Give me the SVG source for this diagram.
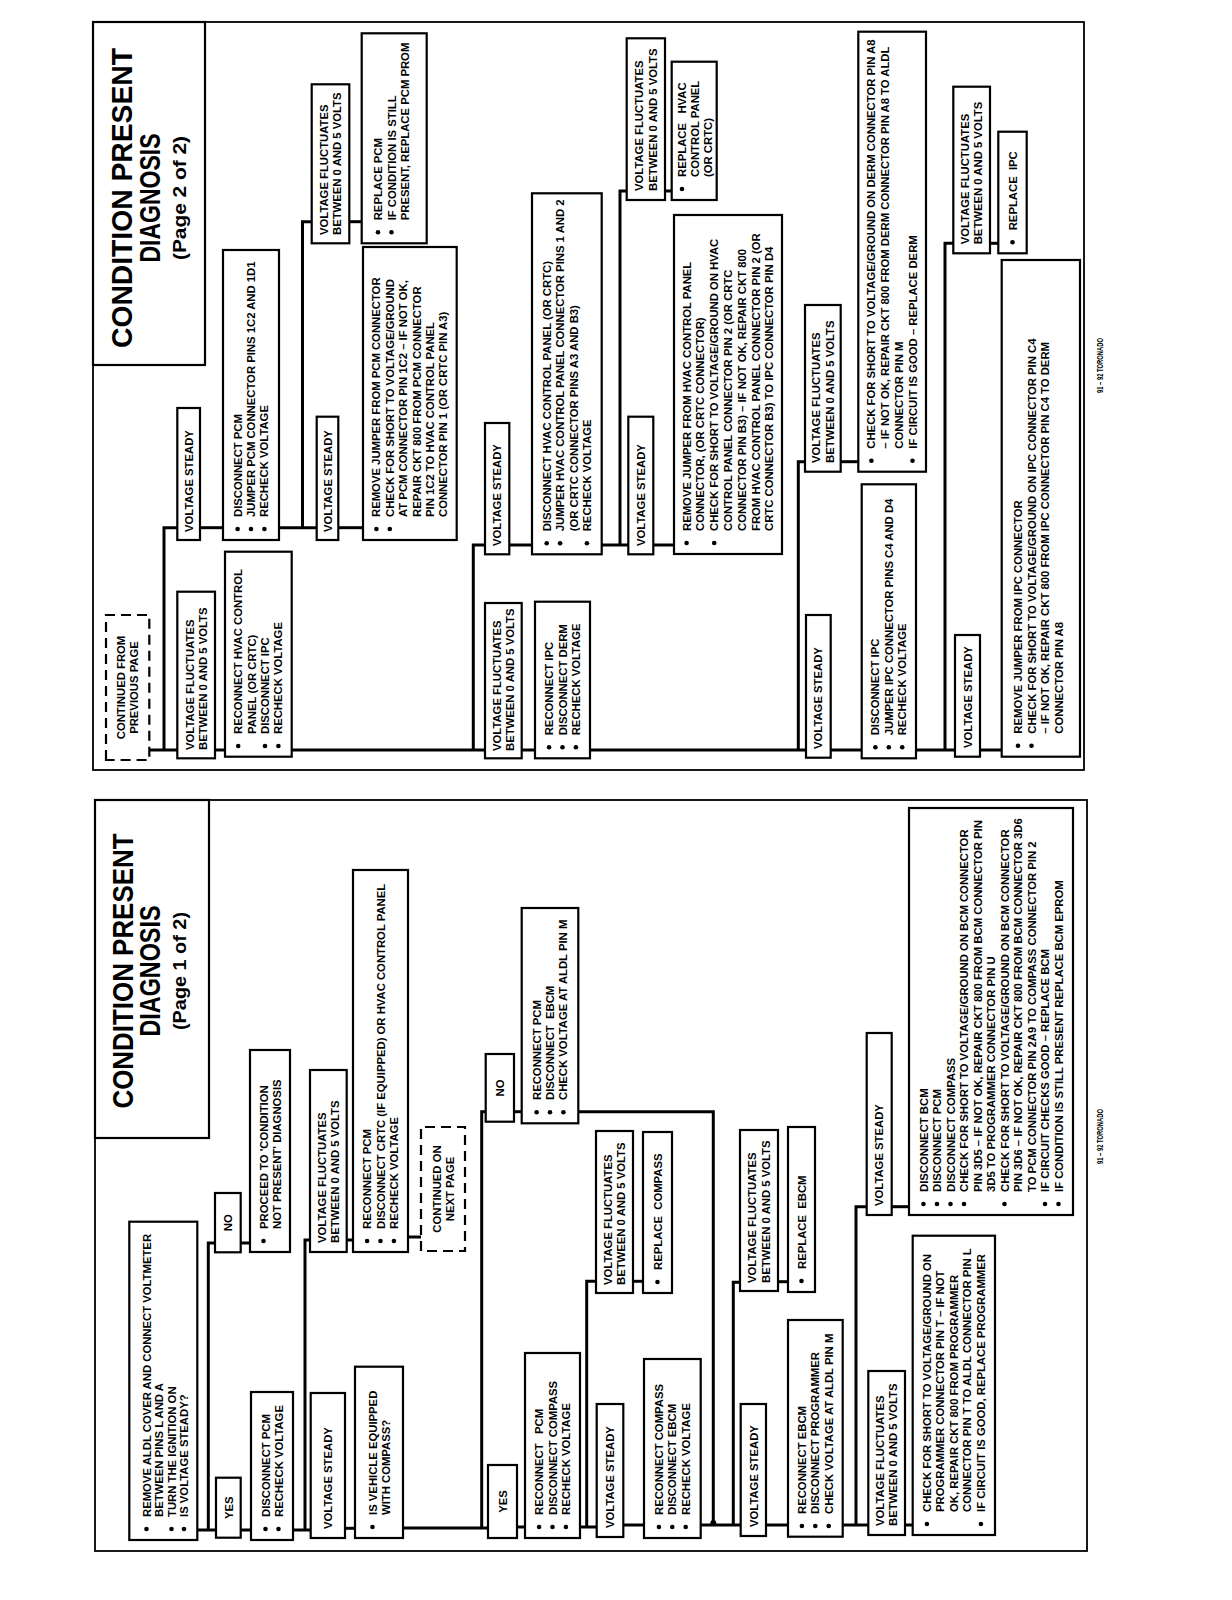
<svg xmlns="http://www.w3.org/2000/svg" width="1232" height="1600" viewBox="0 0 1232 1600">
<style>
.box{fill:#fff;stroke:#000;stroke-width:2.2}
.dash{fill:#fff;stroke:#000;stroke-width:2.2;stroke-dasharray:10 6}
.frame{fill:none;stroke:#000;stroke-width:1.8}
.t{font-family:"Liberation Sans",Arial,Helvetica,sans-serif;font-weight:bold;font-size:11.3px;fill:#000}
.c{text-anchor:middle}
.ti{font-size:29px}
.st{font-size:19px}
.ft{font-size:9.5px}
.b{fill:#000}
#connectors path{fill:none;stroke:#000;stroke-width:3}
</style>
<rect width="1232" height="1600" fill="#fff"/>
<g transform="translate(0,1600) rotate(-90)">
<!-- page frames -->
<rect class="frame" x="49" y="95" width="751" height="992"/>
<rect class="frame" x="830" y="93" width="748" height="991"/>

<g id="connectors">
<!-- page 1 -->
<path d="M70,197 V216"/>
<path d="M70,208.3 H357 V215"/>
<path d="M70,240.7 V251"/>
<path d="M357,240.7 V250"/>
<path d="M70,293 V310.7"/>
<path d="M70,305 H360 V310"/>
<path d="M360,346.7 V353"/>
<path d="M363,408 V421"/>
<path d="M71.7,345 V355"/>
<path d="M72,403 V488"/>
<path d="M72,481.7 H488.3 V485.7"/>
<path d="M73,517 V525"/>
<path d="M488.3,514 V521.7"/>
<path d="M488.3,578.3 V713.3 H75"/>
<path d="M73,580 V596.7"/>
<path d="M73,586.7 H318.7 V596"/>
<path d="M318.7,633 V643"/>
<path d="M75,623.3 V644"/>
<path d="M75,700.7 V740.7"/>
<path d="M75,733.3 H317.7 V740"/>
<path d="M318.3,778 V788"/>
<path d="M75,766 V788"/>
<path d="M75,842.7 V868.3"/>
<path d="M75,856 H393.3 V866.7"/>
<path d="M75,905 V912.7"/>
<path d="M393.3,891.7 V909"/>
<!-- page 2 -->
<path d="M850,149.3 V177.3"/>
<path d="M850,164 H1072.3 V177.3"/>
<path d="M850,215 V225"/>
<path d="M850,291.7 V485"/>
<path d="M850,473.3 H1055 V485"/>
<path d="M1072.3,200 V223"/>
<path d="M1072.3,279 V316.7"/>
<path d="M1072.3,302.5 H1378.3 V311.7"/>
<path d="M1378.3,349.3 V361.7"/>
<path d="M1072.3,338.3 V363"/>
<path d="M850,521.7 V535"/>
<path d="M850,590 V806"/>
<path d="M850,798.3 H1138.3 V805"/>
<path d="M1055,509.3 V532"/>
<path d="M1055,601.7 V628.3"/>
<path d="M1055,620 H1409 V626.7"/>
<path d="M1409,665 V671.7"/>
<path d="M1055,653.3 V674"/>
<path d="M1138.3,840.7 V858.3"/>
<path d="M850,830.7 V861.7"/>
<path d="M850,916 V955"/>
<path d="M850,945 H1356.7 V953.3"/>
<path d="M1356.7,990 V998.3"/>
<path d="M850,980 V1001.7"/>
</g>
<circle class="b" cx="77" cy="713.3" r="3"/>

<!-- ================= PAGE 1 ================= -->
<g id="p1-title">
<rect class="box" x="462" y="95" width="338" height="114"/>
<text class="t c ti" x="629" y="132.7" textLength="275" lengthAdjust="spacingAndGlyphs">CONDITION PRESENT</text>
<text class="t c ti" x="629" y="160" textLength="131" lengthAdjust="spacingAndGlyphs">DIAGNOSIS</text>
<text class="t c st" x="629" y="186" textLength="118" lengthAdjust="spacingAndGlyphs">(Page 1 of 2)</text>
</g>
<g id="p1-start">
<rect class="box" x="60" y="129.3" width="318.3" height="68"/>
<circle class="b" cx="71" cy="146.5" r="2.3"/><circle class="b" cx="71" cy="171.5" r="2.3"/><circle class="b" cx="71" cy="184" r="2.3"/>
<text class="t" x="83" y="150.5">REMOVE ALDL COVER AND CONNECT VOLTMETER</text>
<text class="t" x="83" y="163">BETWEEN PINS L AND A</text>
<text class="t" x="83" y="175.5">TURN THE IGNITION ON</text>
<text class="t" x="83" y="188">IS VOLTAGE STEADY?</text>
</g>
<g id="p1-yes1"><rect class="box" x="62.3" y="216" width="60" height="24.7"/><text class="t c" x="92.3" y="232.5">YES</text></g>
<g id="p1-no1"><rect class="box" x="347.7" y="215" width="59.3" height="25.7"/><text class="t c" x="377.3" y="232">NO</text></g>
<g id="p1-proceed">
<rect class="box" x="348" y="250" width="202" height="40"/>
<circle class="b" cx="359" cy="263.5" r="2.3"/>
<text class="t" x="371" y="267.5">PROCEED TO 'CONDITION</text>
<text class="t" x="371" y="280.5">NOT PRESENT' DIAGNOSIS</text>
</g>
<g id="p1-disc-pcm">
<rect class="box" x="60" y="251" width="148" height="42"/>
<circle class="b" cx="71" cy="265.5" r="2.3"/><circle class="b" cx="71" cy="278.5" r="2.3"/>
<text class="t" x="83" y="269.5">DISCONNECT PCM</text>
<text class="t" x="83" y="282.5">RECHECK VOLTAGE</text>
</g>
<g id="p1-vs1"><rect class="box" x="62" y="310.7" width="145" height="34.3"/><text class="t" x="71" y="332">VOLTAGE STEADY</text></g>
<g id="p1-vf1">
<rect class="box" x="348" y="310" width="182" height="36.7"/>
<text class="t" x="357" y="325.6">VOLTAGE FLUCTUATES</text>
<text class="t" x="357" y="339">BETWEEN 0 AND 5 VOLTS</text>
</g>
<g id="p1-reconnect-crtc">
<rect class="box" x="348" y="353" width="382" height="55"/>
<circle class="b" cx="359" cy="367.1" r="2.3"/><circle class="b" cx="359" cy="380.5" r="2.3"/><circle class="b" cx="359" cy="393.9" r="2.3"/>
<text class="t" x="371" y="371.1">RECONNECT PCM</text>
<text class="t" x="371" y="384.5">DISCONNECT CRTC (IF EQUIPPED) OR HVAC CONTROL PANEL</text>
<text class="t" x="371" y="397.9">RECHECK VOLTAGE</text>
</g>
<g id="p1-continued">
<rect class="dash" x="349" y="421" width="124" height="44"/>
<text class="t c" x="411" y="440.5">CONTINUED ON</text>
<text class="t c" x="411" y="453.5">NEXT PAGE</text>
</g>
<g id="p1-compass-q">
<rect class="box" x="62" y="355" width="171.3" height="48"/>
<circle class="b" cx="73" cy="372.5" r="2.3"/>
<text class="t" x="85" y="376.5">IS VEHICLE EQUIPPED</text>
<text class="t" x="85" y="389.5">WITH COMPASS?</text>
</g>
<g id="p1-yes2"><rect class="box" x="62" y="488" width="73" height="29"/><text class="t c" x="98.5" y="506.5">YES</text></g>
<g id="p1-no2"><rect class="box" x="478.3" y="485.7" width="67.7" height="28.3"/><text class="t c" x="512" y="504">NO</text></g>
<g id="p1-reconnect-ebcm">
<rect class="box" x="476.7" y="521.7" width="215.3" height="56.6"/>
<circle class="b" cx="487.7" cy="536.6" r="2.3"/><circle class="b" cx="487.7" cy="550" r="2.3"/><circle class="b" cx="487.7" cy="563.4" r="2.3"/>
<text class="t" x="500" y="540.6">RECONNECT PCM</text>
<text class="t" x="500" y="554" xml:space="preserve">DISCONNECT  EBCM</text>
<text class="t" x="500" y="567.4">CHECK VOLTAGE AT ALDL PIN M</text>
</g>
<g id="p1-reconnect-compass">
<rect class="box" x="62" y="525" width="185" height="55"/>
<circle class="b" cx="73" cy="539.1" r="2.3"/><circle class="b" cx="73" cy="552.5" r="2.3"/><circle class="b" cx="73" cy="565.9" r="2.3"/>
<text class="t" x="85" y="543.1" xml:space="preserve">RECONNECT   PCM</text>
<text class="t" x="85" y="556.5">DISCONNECT COMPASS</text>
<text class="t" x="85" y="569.9">RECHECK VOLTAGE</text>
</g>
<g id="p1-vs2"><rect class="box" x="63" y="596.7" width="133" height="26.6"/><text class="t" x="72" y="614">VOLTAGE STEADY</text></g>
<g id="p1-vf2">
<rect class="box" x="307" y="596" width="162" height="37"/>
<text class="t" x="315" y="611.8">VOLTAGE FLUCTUATES</text>
<text class="t" x="315" y="625.2">BETWEEN 0 AND 5 VOLTS</text>
</g>
<g id="p1-replace-compass">
<rect class="box" x="307" y="643" width="161" height="29"/>
<circle class="b" cx="318" cy="657.5" r="2.3"/>
<text class="t" x="330" y="661.5" xml:space="preserve">REPLACE  COMPASS</text>
</g>
<g id="p1-reconnect-compass2">
<rect class="box" x="62" y="644" width="179" height="56.7"/>
<circle class="b" cx="73" cy="658.9" r="2.3"/><circle class="b" cx="73" cy="672.3" r="2.3"/><circle class="b" cx="73" cy="685.7" r="2.3"/>
<text class="t" x="85" y="662.9">RECONNECT COMPASS</text>
<text class="t" x="85" y="676.3">DISCONNECT EBCM</text>
<text class="t" x="85" y="689.7">RECHECK VOLTAGE</text>
</g>
<g id="p1-vs3"><rect class="box" x="64" y="740.7" width="132" height="25.3"/><text class="t" x="73" y="757.5">VOLTAGE STEADY</text></g>
<g id="p1-vf3">
<rect class="box" x="309" y="740" width="161" height="38"/>
<text class="t" x="317" y="756.3">VOLTAGE FLUCTUATES</text>
<text class="t" x="317" y="769.7">BETWEEN 0 AND 5 VOLTS</text>
</g>
<g id="p1-replace-ebcm">
<rect class="box" x="308" y="788" width="165" height="27"/>
<circle class="b" cx="319" cy="801.5" r="2.3"/>
<text class="t" x="331" y="805.5" xml:space="preserve">REPLACE  EBCM</text>
</g>
<g id="p1-reconnect-ebcm2">
<rect class="box" x="63.3" y="788" width="216.7" height="54.7"/>
<circle class="b" cx="74" cy="801.9" r="2.3"/><circle class="b" cx="74" cy="815.3" r="2.3"/><circle class="b" cx="74" cy="828.7" r="2.3"/>
<text class="t" x="86" y="805.9">RECONNECT EBCM</text>
<text class="t" x="86" y="819.3">DISCONNECT PROGRAMMER</text>
<text class="t" x="86" y="832.7">CHECK VOLTAGE AT ALDL PIN M</text>
</g>
<g id="p1-vf4">
<rect class="box" x="65" y="868.3" width="164" height="36.7"/>
<text class="t" x="74" y="884">VOLTAGE FLUCTUATES</text>
<text class="t" x="74" y="897.4">BETWEEN 0 AND 5 VOLTS</text>
</g>
<g id="p1-check-programmer">
<rect class="box" x="65" y="912.7" width="299.3" height="82.3"/>
<circle class="b" cx="76" cy="926.9" r="2.3"/><circle class="b" cx="76" cy="980.9" r="2.3"/>
<text class="t" x="88" y="930.9">CHECK FOR SHORT TO VOLTAGE/GROUND ON</text>
<text class="t" x="88" y="944.4">PROGRAMMER CONNECTOR PIN T – IF NOT</text>
<text class="t" x="88" y="957.9">OK, REPAIR CKT 800 FROM PROGRAMMER</text>
<text class="t" x="88" y="971.4">CONNECTOR PIN T TO ALDL CONNECTOR PIN L</text>
<text class="t" x="88" y="984.9">IF CIRCUIT IS GOOD, REPLACE PROGRAMMER</text>
</g>
<g id="p1-vs4"><rect class="box" x="385" y="866.7" width="182" height="25"/><text class="t" x="394" y="883">VOLTAGE STEADY</text></g>
<g id="p1-disconnect-bcm">
<rect class="box" x="385" y="909" width="407" height="164"/>
<circle class="b" cx="396" cy="923.5" r="2.3"/><circle class="b" cx="396" cy="937" r="2.3"/><circle class="b" cx="396" cy="950.5" r="2.3"/><circle class="b" cx="396" cy="964" r="2.3"/><circle class="b" cx="396" cy="1004.5" r="2.3"/><circle class="b" cx="396" cy="1045" r="2.3"/><circle class="b" cx="396" cy="1058.5" r="2.3"/>
<text class="t" x="408" y="927.5">DISCONNECT BCM</text>
<text class="t" x="408" y="941">DISCONNECT PCM</text>
<text class="t" x="408" y="954.5">DISCONNECT COMPASS</text>
<text class="t" x="408" y="968">CHECK FOR SHORT TO VOLTAGE/GROUND ON BCM CONNECTOR</text>
<text class="t" x="408" y="981.5">PIN 3D5 – IF NOT OK, REPAIR CKT 800 FROM BCM CONNECTOR PIN</text>
<text class="t" x="408" y="995">3D5 TO PROGRAMMER CONNECTOR PIN U</text>
<text class="t" x="408" y="1008.5">CHECK FOR SHORT TO VOLTAGE/GROUND ON BCM CONNECTOR</text>
<text class="t" x="408" y="1022">PIN 3D6 – IF NOT OK, REPAIR CKT 800 FROM BCM CONNECTOR 3D6</text>
<text class="t" x="408" y="1035.5">TO PCM CONNECTOR PIN 2A9 TO COMPASS CONNECTOR PIN 2</text>
<text class="t" x="408" y="1049">IF CIRCUIT CHECKS GOOD – REPLACE BCM</text>
<text class="t" x="408" y="1062.5">IF CONDITION IS STILL PRESENT REPLACE BCM EPROM</text>
</g>
<text class="t ft" x="436" y="1103" textLength="55" lengthAdjust="spacingAndGlyphs">91 – 92 TORONADO</text>

<!-- ================= PAGE 2 ================= -->
<g id="p2-title">
<rect class="box" x="1235" y="93" width="343" height="112"/>
<text class="t c ti" x="1402" y="131.7" textLength="300" lengthAdjust="spacingAndGlyphs">CONDITION PRESENT</text>
<text class="t c ti" x="1402" y="160" textLength="129" lengthAdjust="spacingAndGlyphs">DIAGNOSIS</text>
<text class="t c st" x="1402" y="186" textLength="124" lengthAdjust="spacingAndGlyphs">(Page 2 of 2)</text>
</g>
<g id="p2-continued">
<rect class="dash" x="840" y="106" width="145" height="43.3"/>
<text class="t c" x="912.5" y="125">CONTINUED FROM</text>
<text class="t c" x="912.5" y="138">PREVIOUS PAGE</text>
</g>
<g id="p2-vf1">
<rect class="box" x="841.7" y="177.3" width="166.6" height="37.7"/>
<text class="t" x="850" y="193.5">VOLTAGE FLUCTUATES</text>
<text class="t" x="850" y="206.9">BETWEEN 0 AND 5 VOLTS</text>
</g>
<g id="p2-reconnect-hvac">
<rect class="box" x="843.3" y="225" width="205" height="66.7"/>
<circle class="b" cx="854" cy="238.2" r="2.3"/><circle class="b" cx="854" cy="265" r="2.3"/><circle class="b" cx="854" cy="278.4" r="2.3"/>
<text class="t" x="866" y="242.2">RECONNECT HVAC CONTROL</text>
<text class="t" x="866" y="255.6">PANEL (OR CRTC)</text>
<text class="t" x="866" y="269">DISCONNECT IPC</text>
<text class="t" x="866" y="282.4">RECHECK VOLTAGE</text>
</g>
<g id="p2-vs1"><rect class="box" x="1060" y="177.3" width="132" height="22.7"/><text class="t" x="1068" y="192.7">VOLTAGE STEADY</text></g>
<g id="p2-jumper-pcm">
<rect class="box" x="1060" y="223" width="290" height="56"/>
<circle class="b" cx="1071" cy="237.6" r="2.3"/><circle class="b" cx="1071" cy="251" r="2.3"/><circle class="b" cx="1071" cy="264.4" r="2.3"/>
<text class="t" x="1083" y="241.6">DISCONNECT PCM</text>
<text class="t" x="1083" y="255">JUMPER PCM CONNECTOR PINS 1C2 AND 1D1</text>
<text class="t" x="1083" y="268.4">RECHECK VOLTAGE</text>
</g>
<g id="p2-vf2">
<rect class="box" x="1356.7" y="311.7" width="159" height="37.6"/>
<text class="t" x="1365" y="327.8">VOLTAGE FLUCTUATES</text>
<text class="t" x="1365" y="341.2">BETWEEN 0 AND 5 VOLTS</text>
</g>
<g id="p2-replace-pcm">
<rect class="box" x="1356.7" y="361.7" width="210" height="65"/>
<circle class="b" cx="1367.7" cy="378" r="2.3"/><circle class="b" cx="1367.7" cy="391.5" r="2.3"/>
<text class="t" x="1379.7" y="382">REPLACE PCM</text>
<text class="t" x="1379.7" y="395.5">IF CONDITION IS STILL</text>
<text class="t" x="1379.7" y="409">PRESENT, REPLACE PCM PROM</text>
</g>
<g id="p2-vs2"><rect class="box" x="1060" y="316.7" width="123.3" height="21.6"/><text class="t" x="1068" y="331.5">VOLTAGE STEADY</text></g>
<g id="p2-remove-jumper-pcm">
<rect class="box" x="1060" y="363" width="293" height="93.7"/>
<circle class="b" cx="1071" cy="376.4" r="2.3"/><circle class="b" cx="1071" cy="389.8" r="2.3"/>
<text class="t" x="1083" y="380.4">REMOVE JUMPER FROM PCM CONNECTOR</text>
<text class="t" x="1083" y="393.8">CHECK FOR SHORT TO VOLTAGE/GROUND</text>
<text class="t" x="1083" y="407.2">AT PCM CONNECTOR PIN 1C2 – IF NOT OK,</text>
<text class="t" x="1083" y="420.6">REPAIR CKT 800 FROM PCM CONNECTOR</text>
<text class="t" x="1083" y="434">PIN 1C2 TO HVAC CONTROL PANEL</text>
<text class="t" x="1083" y="447.4">CONNECTOR PIN 1 (OR CRTC PIN A3)</text>
</g>
<g id="p2-vf3">
<rect class="box" x="841.7" y="485" width="155.3" height="36.7"/>
<text class="t" x="849" y="500.6">VOLTAGE FLUCTUATES</text>
<text class="t" x="849" y="514">BETWEEN 0 AND 5 VOLTS</text>
</g>
<g id="p2-reconnect-ipc">
<rect class="box" x="841.7" y="535" width="156.6" height="55"/>
<circle class="b" cx="852.7" cy="549.1" r="2.3"/><circle class="b" cx="852.7" cy="562.5" r="2.3"/><circle class="b" cx="852.7" cy="575.9" r="2.3"/>
<text class="t" x="864.7" y="553.1">RECONNECT IPC</text>
<text class="t" x="864.7" y="566.5">DISCONNECT DERM</text>
<text class="t" x="864.7" y="579.9">RECHECK VOLTAGE</text>
</g>
<g id="p2-vs3"><rect class="box" x="1045.7" y="485" width="131.3" height="24.3"/><text class="t" x="1054" y="501">VOLTAGE STEADY</text></g>
<g id="p2-disconnect-hvac">
<rect class="box" x="1045.7" y="532" width="361" height="69.7"/>
<circle class="b" cx="1056.7" cy="546.7" r="2.3"/><circle class="b" cx="1056.7" cy="560.1" r="2.3"/><circle class="b" cx="1056.7" cy="586.9" r="2.3"/>
<text class="t" x="1068.7" y="550.7">DISCONNECT HVAC CONTROL PANEL (OR CRTC)</text>
<text class="t" x="1068.7" y="564.1">JUMPER HVAC CONTROL PANEL CONNECTOR PINS 1 AND 2</text>
<text class="t" x="1068.7" y="577.5">(OR CRTC CONNECTOR PINS A3 AND B3)</text>
<text class="t" x="1068.7" y="590.9">RECHECK VOLTAGE</text>
</g>
<g id="p2-vf4">
<rect class="box" x="1400" y="626.7" width="161.7" height="38.3"/>
<text class="t" x="1409" y="643.1">VOLTAGE FLUCTUATES</text>
<text class="t" x="1409" y="656.5">BETWEEN 0 AND 5 VOLTS</text>
</g>
<g id="p2-replace-hvac">
<rect class="box" x="1400" y="671.7" width="138.3" height="45"/>
<circle class="b" cx="1411" cy="682" r="2.3"/>
<text class="t" x="1423" y="686" xml:space="preserve">REPLACE   HVAC</text>
<text class="t" x="1423" y="699">CONTROL PANEL</text>
<text class="t" x="1423" y="712">(OR CRTC)</text>
</g>
<g id="p2-vs4"><rect class="box" x="1045.7" y="628.3" width="137.6" height="25"/><text class="t" x="1054" y="645">VOLTAGE STEADY</text></g>
<g id="p2-remove-jumper-hvac">
<rect class="box" x="1046" y="674" width="339" height="108"/>
<circle class="b" cx="1057" cy="686.6" r="2.3"/><circle class="b" cx="1057" cy="714.2" r="2.3"/>
<text class="t" x="1069" y="690.6">REMOVE JUMPER FROM HVAC CONTROL PANEL</text>
<text class="t" x="1069" y="704.4">CONNECTOR, (OR CRTC CONNECTOR)</text>
<text class="t" x="1069" y="718.2">CHECK FOR SHORT TO VOLTAGE/GROUND ON HVAC</text>
<text class="t" x="1069" y="732">CONTROL PANEL CONNECTOR PIN 2 (OR CRTC</text>
<text class="t" x="1069" y="745.8">CONNECTOR PIN B3) – IF NOT OK, REPAIR CKT 800</text>
<text class="t" x="1069" y="759.6">FROM HVAC CONTROL PANEL CONNECTOR PIN 2 (OR</text>
<text class="t" x="1069" y="773.4">CRTC CONNECTOR B3) TO IPC CONNECTOR PIN D4</text>
</g>
<g id="p2-vf5">
<rect class="box" x="1128.3" y="805" width="166.7" height="35.7"/>
<text class="t" x="1137" y="820.1">VOLTAGE FLUCTUATES</text>
<text class="t" x="1137" y="833.5">BETWEEN 0 AND 5 VOLTS</text>
</g>
<g id="p2-check-derm">
<rect class="box" x="1128.3" y="858.3" width="440" height="67.7"/>
<circle class="b" cx="1139.3" cy="871.4" r="2.3"/><circle class="b" cx="1139.3" cy="912.5" r="2.3"/>
<text class="t" x="1151.3" y="875.4">CHECK FOR SHORT TO VOLTAGE/GROUND ON DERM CONNECTOR PIN A8</text>
<text class="t" x="1151.3" y="889.1">– IF NOT OK, REPAIR CKT 800 FROM DERM CONNECTOR PIN A8 TO ALDL</text>
<text class="t" x="1151.3" y="902.8">CONNECTOR PIN M</text>
<text class="t" x="1151.3" y="916.5">IF CIRCUIT IS GOOD – REPLACE DERM</text>
</g>
<g id="p2-vs5"><rect class="box" x="842.3" y="806" width="142.7" height="24.7"/><text class="t" x="851" y="822">VOLTAGE STEADY</text></g>
<g id="p2-jumper-ipc">
<rect class="box" x="841.7" y="861.7" width="274" height="54.3"/>
<circle class="b" cx="852.7" cy="875.4" r="2.3"/><circle class="b" cx="852.7" cy="888.8" r="2.3"/><circle class="b" cx="852.7" cy="902.2" r="2.3"/>
<text class="t" x="864.7" y="879.4">DISCONNECT IPC</text>
<text class="t" x="864.7" y="892.8">JUMPER IPC CONNECTOR PINS C4 AND D4</text>
<text class="t" x="864.7" y="906.2">RECHECK VOLTAGE</text>
</g>
<g id="p2-vf6">
<rect class="box" x="1346.7" y="953.3" width="166.6" height="36.7"/>
<text class="t" x="1355.7" y="969">VOLTAGE FLUCTUATES</text>
<text class="t" x="1355.7" y="982.4">BETWEEN 0 AND 5 VOLTS</text>
</g>
<g id="p2-replace-ipc">
<rect class="box" x="1346.7" y="998.3" width="121.6" height="28.4"/>
<circle class="b" cx="1357.7" cy="1012.5" r="2.3"/>
<text class="t" x="1369.7" y="1016.5" xml:space="preserve">REPLACE  IPC</text>
</g>
<g id="p2-vs6"><rect class="box" x="843.3" y="955" width="121.7" height="25"/><text class="t" x="852" y="971.5">VOLTAGE STEADY</text></g>
<g id="p2-remove-jumper-ipc">
<rect class="box" x="843.3" y="1001.7" width="496.7" height="78.3"/>
<circle class="b" cx="854.3" cy="1018" r="2.3"/><circle class="b" cx="854.3" cy="1031.5" r="2.3"/>
<text class="t" x="866.3" y="1022">REMOVE JUMPER FROM IPC CONNECTOR</text>
<text class="t" x="866.3" y="1035.5">CHECK FOR SHORT TO VOLTAGE/GROUND ON IPC CONNECTOR PIN C4</text>
<text class="t" x="866.3" y="1049">– IF NOT OK, REPAIR CKT 800 FROM IPC CONNECTOR PIN C4 TO DERM</text>
<text class="t" x="866.3" y="1062.5">CONNECTOR PIN A8</text>
</g>
<text class="t ft" x="1207" y="1103" textLength="55" lengthAdjust="spacingAndGlyphs">91 – 92 TORONADO</text>
</g>
</svg>
